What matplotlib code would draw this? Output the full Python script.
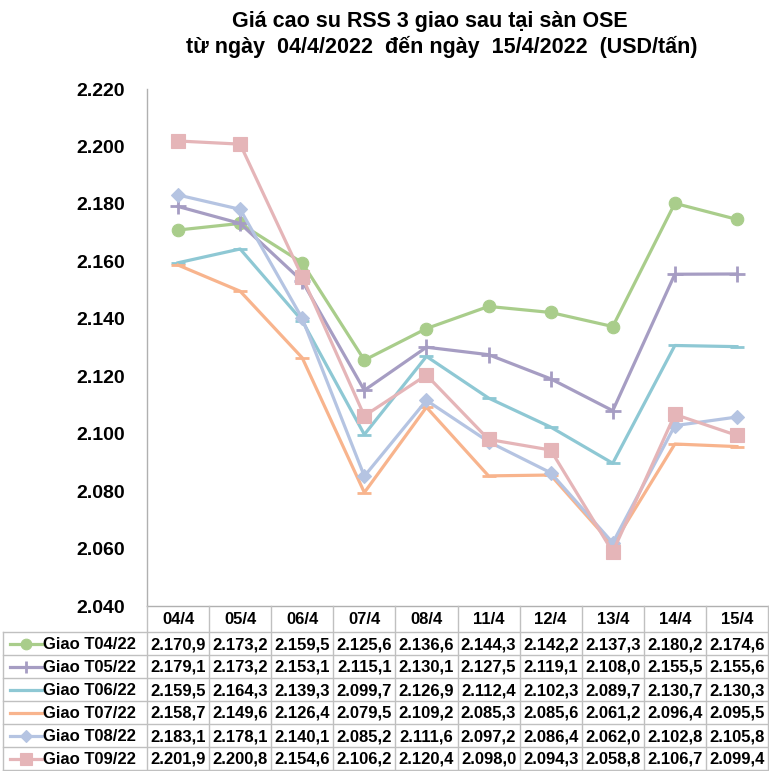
import matplotlib
matplotlib.use("Agg")
import matplotlib.pyplot as plt
from matplotlib.lines import Line2D

plt.rcParams['font.family'] = ['Liberation Sans', 'DejaVu Sans']

dates = ["04/4", "05/4", "06/4", "07/4", "08/4", "11/4", "12/4", "13/4", "14/4", "15/4"]
series_names = ["Giao T04/22", "Giao T05/22", "Giao T06/22", "Giao T07/22", "Giao T08/22", "Giao T09/22"]
t04 = [2170.9, 2173.2, 2159.5, 2125.6, 2136.6, 2144.3, 2142.2, 2137.3, 2180.2, 2174.6]
t05 = [2179.1, 2173.2, 2153.1, 2115.1, 2130.1, 2127.5, 2119.1, 2108.0, 2155.5, 2155.6]
t06 = [2159.5, 2164.3, 2139.3, 2099.7, 2126.9, 2112.4, 2102.3, 2089.7, 2130.7, 2130.3]
t07 = [2158.7, 2149.6, 2126.4, 2079.5, 2109.2, 2085.3, 2085.6, 2061.2, 2096.4, 2095.5]
t08 = [2183.1, 2178.1, 2140.1, 2085.2, 2111.6, 2097.2, 2086.4, 2062.0, 2102.8, 2105.8]
t09 = [2201.9, 2200.8, 2154.6, 2106.2, 2120.4, 2098.0, 2094.3, 2058.8, 2106.7, 2099.4]
series = [t04, t05, t06, t07, t08, t09]
y_ticks = [2040, 2060, 2080, 2100, 2120, 2140, 2160, 2180, 2200, 2220]

colors = ["#a9cd8b", "#a69dc3", "#8ec8d4", "#f8b48d", "#b5c4e2", "#e5b5b8"]
markers = ["o", "+", "_", "_", "D", "s"]
msizes = [9, 11, 10, 10, 7.5, 9.5]


def vn_num(v, decimals):
    s = f"{v:,.{decimals}f}"
    return s.replace(",", "#").replace(".", ",").replace("#", ".")


W, H = 769, 771
fig = plt.figure(figsize=(W / 100, H / 100), dpi=100)

ax_left, ax_right, ax_top, ax_bottom = 147, 768, 89, 606
ax = fig.add_axes([ax_left / W, 1 - ax_bottom / H, (ax_right - ax_left) / W, (ax_bottom - ax_top) / H])

x = list(range(len(dates)))
for vals, c, m, ms in zip(series, colors, markers, msizes):
    ax.plot(x, vals, color=c, lw=2.3, marker=m, markersize=ms,
            markeredgewidth=2 if m in "+_" else 0.8, markeredgecolor=c, markerfacecolor=c)

ax.set_xlim(-0.5, len(dates) - 0.5)
ax.set_ylim(y_ticks[0], y_ticks[-1])
ax.set_yticks(y_ticks)
ax.set_yticklabels([vn_num(v, 0) for v in y_ticks], fontsize=14, fontweight="bold")
ax.tick_params(axis="y", length=0, pad=16)
ax.set_xticks([])
for side in ("top", "right"):
    ax.spines[side].set_visible(False)
for side in ("left", "bottom"):
    ax.spines[side].set_color("#b0b0b0")
    ax.spines[side].set_linewidth(1)

fig.text(430 / W, 1 - 22 / H, "Giá cao su RSS 3 giao sau tại sàn OSE", ha="center", va="center",
         fontsize=15.5, fontweight="bold")
fig.text(442 / W, 1 - 47 / H, "từ ngày  04/4/2022  đến ngày  15/4/2022  (USD/tấn)", ha="center", va="center",
         fontsize=15.5, fontweight="bold")

# data table below the plot, in pixel coordinates
tab = fig.add_axes([0, 0, 1, 1])
tab.set_xlim(0, W)
tab.set_ylim(H, 0)
tab.axis("off")

n = len(dates)
col_w = (ax_right - ax_left) / n
col_edges = [ax_left + i * col_w for i in range(n + 1)]
head_top, head_bot = ax_bottom, 632
row_h = (H - 1 - head_bot) / len(series)
row_edges = [head_bot + i * row_h for i in range(len(series) + 1)]
grid_c = "#c0c0c0"
left_edge = 3

for xe in col_edges:
    tab.plot([xe, xe], [head_top, row_edges[-1]], color=grid_c, lw=1)
tab.plot([left_edge, left_edge], [head_bot, row_edges[-1]], color=grid_c, lw=1)
for ye in row_edges:
    tab.plot([left_edge, ax_right], [ye, ye], color=grid_c, lw=1)

for i, d in enumerate(dates):
    tab.text(col_edges[i] + col_w / 2, (head_top + head_bot) / 2 + 1, d, ha="center", va="center",
             fontsize=12, fontweight="bold")

for r, (name, vals, c, m, ms) in enumerate(zip(series_names, series, colors, markers, msizes)):
    yc = row_edges[r] + row_h / 2
    tab.add_line(Line2D([10, 42], [yc, yc], color=c, lw=2.3))
    tab.add_line(Line2D([26], [yc], marker=m, markersize=ms * 0.85, color=c, markerfacecolor=c,
                        markeredgecolor=c, markeredgewidth=2 if m in "+_" else 0.8))
    tab.text(43, yc + 1, name, ha="left", va="center", fontsize=12, fontweight="bold")
    for i, v in enumerate(vals):
        tab.text(col_edges[i] + col_w / 2, yc + 1, vn_num(v, 1),
                 ha="center", va="center", fontsize=12, fontweight="bold")

fig.savefig("out.png", dpi=100, facecolor="white")
